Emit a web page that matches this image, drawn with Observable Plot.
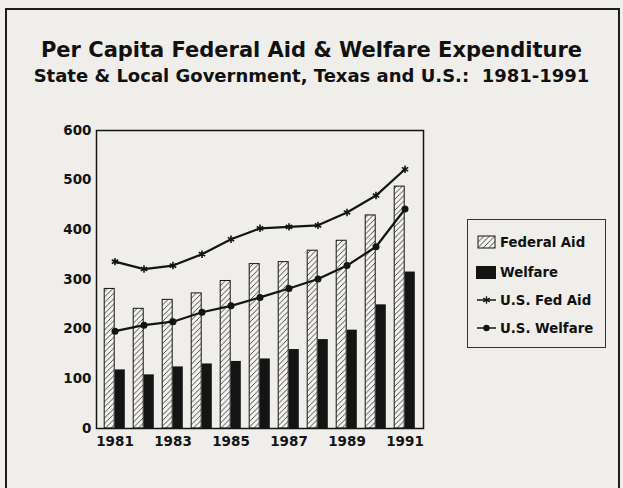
<!DOCTYPE html>
<html><head><meta charset="utf-8">
<script src="https://cdn.jsdelivr.net/npm/d3@7"></script>
<script src="https://cdn.jsdelivr.net/npm/@observablehq/plot@0.6"></script>
<style>
body{margin:0;background:#efeeea;}
#wrap{position:relative;width:623px;height:488px;overflow:hidden;font-family:"DejaVu Sans",sans-serif;background:#efeeea;}
#chart{position:absolute;left:0;top:0;}
#border{position:absolute;left:5px;top:8px;width:611px;height:500px;border:2px solid #1d1d1d;}
.title{position:absolute;left:0;width:623px;text-align:center;font-weight:bold;color:#111;white-space:nowrap;}
#legend{position:absolute;left:467px;top:219px;width:137px;height:127px;border:1.5px solid #333;font-weight:bold;font-size:13.3px;color:#111;}
.item{position:absolute;left:7px;display:flex;align-items:center;gap:2px;}
.item svg{display:block;}
</style></head><body>
<div id="wrap">
<div id="chart"></div>
<div id="border"></div>
<div class="title" style="top:38px;font-size:21px;">Per Capita Federal Aid &amp; Welfare Expenditure</div>
<div class="title" style="top:65px;font-size:18px;">State &amp; Local Government, Texas and U.S.:&nbsp; 1981-1991</div>
<div id="legend"></div>
</div>
<script>
const years = [1981,1982,1983,1984,1985,1986,1987,1988,1989,1990,1991];
const federalAid = [281,241,259,272,297,331,335,358,378,429,487];
const welfare = [118,108,124,130,135,140,159,179,198,249,315];
const usFedAid = [336,321,328,351,381,403,406,409,435,469,522];
const usWelfare = [196,208,215,234,247,264,282,301,328,366,442];
const yTicks = [0,100,200,300,400,500,600];
const xTicks = [1981,1983,1985,1987,1989,1991];
const legendLabels = ["Federal Aid","Welfare","U.S. Fed Aid","U.S. Welfare"];

const rows = years.map((yr,i)=>({year:yr, fed:federalAid[i], wel:welfare[i], usFed:usFedAid[i], usWel:usWelfare[i]}));

const ink = "#141414";
const plot = Plot.plot({
  width: 623, height: 488,
  marginLeft: 96, marginRight: 200, marginTop: 130, marginBottom: 60,
  style: {background:"transparent", fontFamily:"'DejaVu Sans',sans-serif", fontSize:"13.5px", fontWeight:"bold", color:ink},
  x: {type:"band", domain: years, padding: 0, ticks: xTicks, tickSize: 0, tickPadding: 8, label: null, tickFormat: d=>String(d)},
  y: {domain:[0,600], ticks: yTicks, tickSize: 0, tickPadding: 5, label: null},
  marks: [
    Plot.barY(rows, {x:"year", y:"fed", fill:"url(#hatch)", stroke:ink, strokeWidth:1, insetLeft:4.2, insetRight:14.8}),
    Plot.barY(rows, {x:"year", y:"wel", fill:ink, insetLeft:14.8, insetRight:4.2}),
    Plot.line(rows, {x:"year", y:"usFed", stroke:ink, strokeWidth:2.2}),
    Plot.dot(rows, {x:"year", y:"usFed", symbol:"asterisk", r:3.5, stroke:ink, strokeWidth:1.6}),
    Plot.line(rows, {x:"year", y:"usWel", stroke:ink, strokeWidth:2.2}),
    Plot.dot(rows, {x:"year", y:"usWel", r:3.5, fill:ink}),
    Plot.frame({stroke:ink, strokeWidth:1.5})
  ]
});
const defs = d3.select(plot).insert("defs", ":first-child");
const pat = defs.append("pattern").attr("id","hatch").attr("patternUnits","userSpaceOnUse").attr("width",5.5).attr("height",5.5);
pat.append("rect").attr("width",5.5).attr("height",5.5).attr("fill","#f4f3ef");
pat.append("path").attr("d","M-1,6.5 L6.5,-1 M-1,1 L1,-1 M4.5,6.5 L6.5,4.5").attr("stroke","#333").attr("stroke-width",0.9);
document.getElementById("chart").appendChild(plot);

// legend
const leg = d3.select("#legend");
const tops = [14, 44, 72, 100];
legendLabels.forEach((lab,i)=>{
  const it = leg.append("div").attr("class","item").style("top", tops[i]+"px");
  const s = it.append("svg").attr("width",23).attr("height",16);
  if (i===0) {
    const d = s.append("defs").append("pattern").attr("id","hatchL").attr("patternUnits","userSpaceOnUse").attr("width",5.5).attr("height",5.5);
    d.append("rect").attr("width",5.5).attr("height",5.5).attr("fill","#f4f3ef");
    d.append("path").attr("d","M-1,6.5 L6.5,-1 M-1,1 L1,-1 M4.5,6.5 L6.5,4.5").attr("stroke","#333").attr("stroke-width",0.9);
    s.append("rect").attr("x",3).attr("y",2).attr("width",17).attr("height",12).attr("fill","url(#hatchL)").attr("stroke",ink);
  } else if (i===1) {
    s.append("rect").attr("x",1).attr("y",2).attr("width",20).attr("height",13).attr("fill",ink);
  } else {
    s.append("line").attr("x1",2).attr("x2",21).attr("y1",8).attr("y2",8).attr("stroke",ink).attr("stroke-width",1.5);
    if (i===2) {
      s.append("path").attr("d",d3.symbol(d3.symbolAsterisk, 40)()).attr("transform","translate(11.5,8)").attr("stroke",ink).attr("stroke-width",1.3).attr("fill","none");
    } else {
      s.append("circle").attr("cx",11.5).attr("cy",8).attr("r",3.2).attr("fill",ink);
    }
  }
  it.append("span").text(lab);
});
</script>
</body></html>
